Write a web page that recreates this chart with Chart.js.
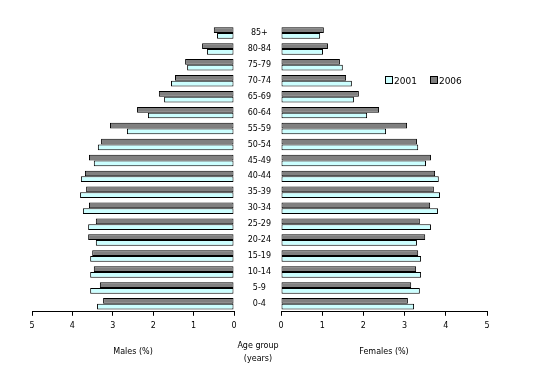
<!DOCTYPE html>
<html><head><meta charset="utf-8">
<script src="https://cdn.jsdelivr.net/npm/chart.js@4/dist/chart.umd.min.js"></script>
<style>
html,body{margin:0;padding:0;background:#fff;width:548px;height:366px;overflow:hidden;font-family:"DejaVu Sans",sans-serif;}
#lw{position:absolute;left:0;top:0;width:240px;height:366px;}
#rw{position:absolute;left:234px;top:0;width:314px;height:366px;}
.t{position:absolute;font-size:8px;color:#000;white-space:nowrap;}
.sq{display:inline-block;width:6px;height:6px;border:1px solid #000;vertical-align:0px;margin-right:1px;}
</style></head><body>
<div id="lw"><canvas id="left"></canvas></div>
<div id="rw"><canvas id="right"></canvas></div>
<div class="t" style="left:228px;top:339px;width:60px;text-align:center;line-height:13px;">Age group<br>(years)</div>
<div class="t" style="left:385px;top:76px;font-size:9px;"><span class="sq" style="background:#ccffff"></span>2001<span style="display:inline-block;width:13px"></span><span class="sq" style="background:#808080"></span>2006</div>
<script>
const ageGroups = ["85+","80-84","75-79","70-74","65-69","60-64","55-59","50-54","45-49","40-44","35-39","30-34","25-29","20-24","15-19","10-14","5-9","0-4"];
const males2006 = [0.50,0.79,1.21,1.46,1.86,2.40,3.07,3.29,3.59,3.69,3.66,3.59,3.42,3.61,3.51,3.47,3.32,3.24];
const males2001 = [0.42,0.67,1.16,1.56,1.73,2.13,2.65,3.37,3.47,3.79,3.81,3.74,3.61,3.42,3.56,3.56,3.56,3.39];
const females2006 = [1.04,1.14,1.43,1.58,1.89,2.38,3.06,3.30,3.64,3.74,3.71,3.62,3.37,3.50,3.33,3.28,3.16,3.08];
const females2001 = [0.95,1.02,1.50,1.72,1.77,2.09,2.55,3.33,3.52,3.83,3.86,3.81,3.64,3.30,3.40,3.40,3.37,3.23];
const xTicks = [0,1,2,3,4,5];

const FONT = {family:"DejaVu Sans", size:8};
Chart.defaults.color = "#000";
Chart.defaults.font = FONT;

function ds(label, data, color){
  return {label, data, backgroundColor:color, borderColor:"#000", borderWidth:1, borderSkipped:false,
          categoryPercentage:0.72, barPercentage:1.0};
}
function xScale(reverse, title){
  return {
    type:"linear", min:0, max:5, reverse,
    afterBuildTicks: s => { s.ticks = xTicks.map(v=>({value:v})); },
    ticks:{font:FONT, color:"#000", padding:5},
    grid:{display:true, drawOnChartArea:false, drawTicks:true, tickLength:4, color:"#000"},
    border:{display:true, color:"#000", width:1},
    title:{display:true, text:title, font:FONT, color:"#000", padding:{top:12, bottom:0}}
  };
}
const common = {responsive:false, animation:false, indexAxis:"y",
  plugins:{legend:{display:false}, tooltip:{enabled:false}}};

const lc = document.getElementById("left"); lc.width=240; lc.height=366;
new Chart(lc, {
  type:"bar",
  data:{labels:ageGroups, datasets:[ds("2006",males2006,"#808080"), ds("2001",males2001,"#ccffff")]},
  options:Object.assign({}, common, {
    layout:{padding:{left:32, right:6, top:25, bottom:9}},
    scales:{
      x:xScale(true,"Males (%)"),
      y:{display:false}
    }
  })
});

const rc = document.getElementById("right"); rc.width=314; rc.height=366;
new Chart(rc, {
  type:"bar",
  data:{labels:ageGroups, datasets:[ds("2006",females2006,"#808080"), ds("2001",females2001,"#ccffff")]},
  options:Object.assign({}, common, {
    layout:{padding:{left:0, right:61, top:25, bottom:9}},
    scales:{
      x:xScale(false,"Females (%)"),
      y:{
        position:"left",
        afterFit: s => { s.width = 47; },
        ticks:{font:FONT, color:"#000", crossAlign:"center", padding:10},
        grid:{display:false, drawTicks:false},
        border:{display:false}
      }
    }
  })
});
</script>
</body></html>
